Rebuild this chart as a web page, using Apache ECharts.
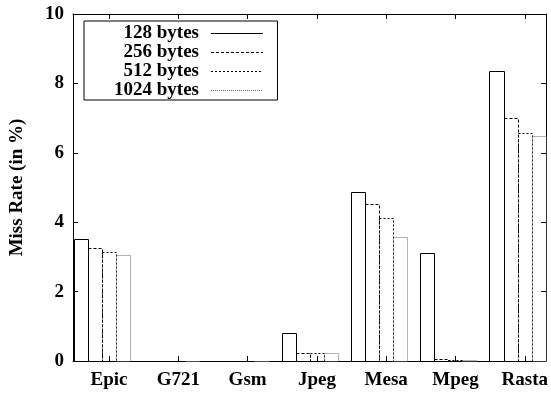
<!DOCTYPE html>
<html>
<head>
<meta charset="utf-8">
<script src="https://cdn.jsdelivr.net/npm/echarts@6/dist/echarts.min.js"></script>
<style>html,body{margin:0;padding:0;background:#fff}#c{width:551px;height:394px}</style>
</head>
<body>
<div id="c"></div>
<script>
const categories = ['Epic', 'G721', 'Gsm', 'Jpeg', 'Mesa', 'Mpeg', 'Rasta'];
const seriesNames = ['128 bytes', '256 bytes', '512 bytes', '1024 bytes'];
const v128  = [3.51, 0, 0, 0.81, 4.86, 3.12, 8.37];
const v256  = [3.27, 0, 0, 0.22, 4.52, 0.07, 6.99];
const v512  = [3.15, 0, 0, 0.22, 4.11, 0.04, 6.56];
const v1024 = [3.05, 0, 0, 0.22, 3.56, 0.02, 6.49];
const yTicks = [0, 2, 4, 6, 8, 10];

const FONT = 'Liberation Serif';
const BAR_W = 0.203;
const BAR_OFFSET = -0.51;
const styles = [
  { color: '#000', dash: null },
  { color: '#000', dash: [3, 2] },
  { color: '#000', dash: [2, 2] },
  { color: '#666', dash: [1, 1] }
];
const allValues = [v128, v256, v512, v1024];
const catIdx = categories.map((c, i) => i);

function makeRender(k) {
  const st = styles[k];
  return function (params, api) {
    const c = api.value(0), v = api.value(1);
    const p0 = api.coord([c + BAR_OFFSET + k * BAR_W, 0]);
    const p1 = api.coord([c + BAR_OFFSET + (k + 1) * BAR_W, v]);
    const L = Math.round(p0[0]) + 0.5, R = Math.round(p1[0]) + 0.5;
    const B = Math.round(p0[1]) + 0.5, T = Math.round(p1[1]) + 0.5;
    return {
      type: 'rect',
      shape: { x: L, y: T, width: R - L, height: B - T },
      style: { fill: 'none', stroke: st.color, lineWidth: 1, lineDash: st.dash }
    };
  };
}

const labelStyle = { fontFamily: FONT, fontSize: 19, fontWeight: 'bold', color: '#000' };

function xAxisCfg(pos, showLabel) {
  return {
    type: 'value', position: pos, min: -0.52, max: 6.306,
    axisLine: { show: true, onZero: false, lineStyle: { color: '#000', width: 1 } },
    axisTick: { show: true, inside: true, length: 5, customValues: catIdx, lineStyle: { color: '#000' } },
    axisLabel: Object.assign({ show: showLabel, customValues: catIdx, margin: 10,
      formatter: v => categories[Math.round(v)] }, labelStyle),
    splitLine: { show: false }
  };
}
function yAxisCfg(pos, showLabel) {
  return {
    type: 'value', position: pos, min: 0, max: 10, interval: 2,
    axisLine: { show: true, onZero: false, lineStyle: { color: '#000', width: 1 } },
    axisTick: { show: true, inside: true, length: 5, lineStyle: { color: '#000' } },
    axisLabel: Object.assign({ show: showLabel, margin: 9, customValues: yTicks }, labelStyle),
    splitLine: { show: false }
  };
}

const yMain = yAxisCfg('left', true);
yMain.name = 'Miss Rate (in %)';
yMain.nameLocation = 'middle';
yMain.nameGap = 46;
yMain.nameTextStyle = Object.assign({}, labelStyle);

const option = {
  animation: false,
  backgroundColor: '#fff',
  grid: { left: 73, right: 2, top: 14, bottom: 33, containLabel: false },
  xAxis: [xAxisCfg('bottom', true), xAxisCfg('top', false)],
  yAxis: [yMain, yAxisCfg('right', false)],
  legend: {
    orient: 'vertical', left: 84, top: 21, align: 'right',
    padding: [3, 12, 0, 30], itemGap: 0, itemWidth: 59, itemHeight: 10,
    backgroundColor: '#fff', borderColor: '#000', borderWidth: 1, borderRadius: 0,
    selectedMode: false,
    textStyle: Object.assign({ lineHeight: 19 }, labelStyle),
    data: seriesNames.map((n, k) => ({
      name: n,
      icon: 'path://M0,0M0,10M7,5L59,5',
      itemStyle: { color: 'none', borderColor: styles[k].color, borderWidth: 1,
        borderType: styles[k].dash || 'solid' }
    }))
  },
  series: seriesNames.map((n, k) => ({
    name: n, type: 'custom', xAxisIndex: 0, yAxisIndex: 0,
    renderItem: makeRender(k), clip: false, silent: true,
    itemStyle: { color: styles[k].color },
    data: allValues[k].map((v, i) => [i, v])
  }))
};
echarts.init(document.getElementById('c'), null, { renderer: 'canvas' }).setOption(option);
</script>
</body>
</html>
